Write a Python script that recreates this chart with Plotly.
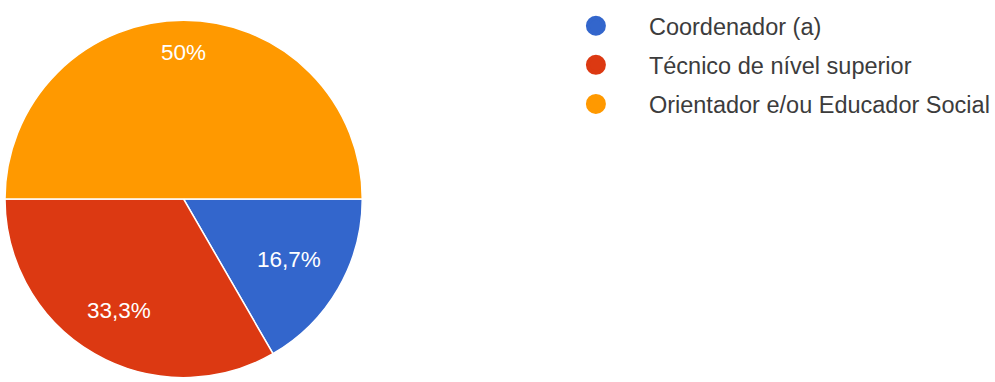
import math
import plotly.graph_objects as go

# Response counts per role
categories = ["Coordenador (a)", "Técnico de nível superior", "Orientador e/ou Educador Social"]
counts = [1, 2, 3]
colors = ["#3366cc", "#dc3912", "#ff9900"]

# Radial placement of each percentage label, as a fraction of the radius
label_radius = [0.68, 0.72, 0.82]


def pct_label(v, total):
    p = round(v / total * 100, 1)
    s = f"{p:.1f}".replace(".", ",")
    if s.endswith(",0"):
        s = s[:-2]
    return s + "%"


total = sum(counts)
labels_txt = [pct_label(v, total) for v in counts]

W, H = 995, 382
cx, cy, r = 184, 199, 179  # pie centre and radius in pixels (from top-left)
start_deg = 0  # first slice starts at 3 o'clock, running clockwise

fig = go.Figure()
fig.add_trace(go.Pie(
    labels=categories,
    values=counts,
    textinfo="none",
    marker=dict(colors=colors, line=dict(color="white", width=1.5)),
    sort=False,
    direction="clockwise",
    rotation=90 - start_deg,
    showlegend=False,
    hoverinfo="label+percent",
    domain=dict(x=[(cx - r) / W, (cx + r) / W], y=[(H - cy - r) / H, (H - cy + r) / H]),
))

# Percentage labels at the angular middle of each slice
cum = 0
for v, txt, rf in zip(counts, labels_txt, label_radius):
    mid = math.radians(start_deg + (cum + v / 2) / total * 360)
    cum += v
    px = cx + rf * r * math.cos(mid)
    py = cy + rf * r * math.sin(mid)
    fig.add_annotation(
        x=px / W, y=(H - py) / H, xref="paper", yref="paper",
        text=txt, showarrow=False, xanchor="center", yanchor="middle",
        font=dict(family="Liberation Sans, Arial, sans-serif", size=22.5, color="white"),
    )

# Legend entries with round swatches
for name, col in zip(categories, colors):
    fig.add_trace(go.Scatter(
        x=[None], y=[None], mode="markers", name=name, legendgroup=name,
        marker=dict(symbol="circle", size=16, color=col, line=dict(color=col, width=4)),
        showlegend=True, hoverinfo="skip",
    ))

fig.update_layout(
    width=W, height=H,
    margin=dict(l=0, r=0, t=0, b=0),
    paper_bgcolor="white", plot_bgcolor="white",
    xaxis=dict(visible=False), yaxis=dict(visible=False),
    legend=dict(
        x=544 / W, xanchor="left", y=1 - 4 / H, yanchor="top",
        font=dict(family="Liberation Sans, Arial, sans-serif", size=23.5, color="#3c3c3c"),
        itemwidth=96, tracegroupgap=5.5, traceorder="grouped",
        bgcolor="rgba(0,0,0,0)",
    ),
)

fig.write_html("out.html")
